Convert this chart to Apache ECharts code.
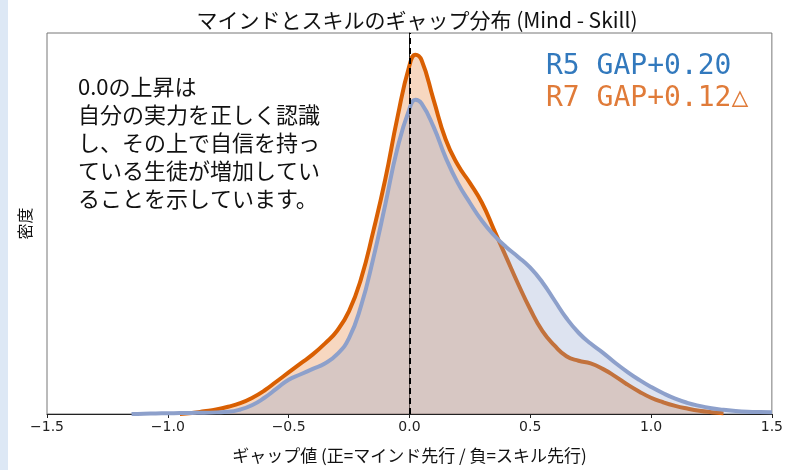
<!DOCTYPE html>
<html>
<head>
<meta charset="utf-8">
<script src="https://cdn.jsdelivr.net/npm/echarts@6/dist/echarts.min.js"></script>
<style>
html,body{margin:0;padding:0;background:#fff;}
#main{width:786px;height:470px;}
</style>
</head>
<body>
<div id="main"></div>
<script>
// x grid of the density curves (gap value)
var gapValues = [-1.20,-1.15,-1.10,-1.05,-1.00,-0.95,-0.90,-0.85,-0.80,-0.75,-0.70,-0.65,-0.60,-0.55,-0.50,-0.45,-0.40,-0.35,-0.30,-0.25,-0.20,-0.15,-0.10,-0.05,
    0.00,0.025,0.05,0.10,0.15,0.20,0.25,0.30,0.35,0.40,0.45,0.50,0.55,0.60,0.65,0.70,0.75,0.80,0.85,0.90,0.95,1.00,1.05,1.10,1.15,1.20,1.25,1.30,1.35,1.40,1.45,1.50];
// R7 density (orange)
var r7Density = [null,null,null,null,null,0,0.006,0.015,0.025,0.04,0.06,0.09,0.13,0.18,0.23,0.28,0.33,0.39,0.46,0.57,0.75,1.01,1.30,1.64,
    1.93,1.99,1.96,1.74,1.52,1.38,1.28,1.17,1.02,0.87,0.72,0.58,0.46,0.38,0.32,0.295,0.28,0.25,0.21,0.165,0.125,0.09,0.065,0.045,0.03,0.018,0.01,0.004,null,null,null,null];
// R5 density (blue)
var r5Density = [null,0,0.002,0.003,0.004,0.005,0.006,0.007,0.009,0.012,0.025,0.05,0.09,0.14,0.19,0.22,0.25,0.28,0.33,0.42,0.60,0.86,1.16,1.47,
    1.69,1.74,1.72,1.59,1.42,1.28,1.17,1.07,0.99,0.925,0.87,0.81,0.73,0.63,0.53,0.45,0.39,0.34,0.285,0.235,0.19,0.15,0.115,0.085,0.062,0.045,0.032,0.023,0.017,0.013,0.011,0.01];

var noteLines = ['0.0の上昇は','自分の実力を正しく認識','し、その上で自信を持っ','ている生徒が増加してい','ることを示しています。'];
var legendR5 = 'R5 GAP+0.20';
var legendR7 = 'R7 GAP+0.12△';

function pairs(xs, ys){
    var out = [];
    for(var i = 0;i<xs.length;i++){
        out.push([xs[i], ys[i]]);
    }
    return out;
}

var chart = echarts.init(document.getElementById('main'));
var option = {
    animation:false,
    backgroundColor:'#fff',
    title:{
        text:'マインドとスキルのギャップ分布 (Mind - Skill)',
        left:412, top:5, textAlign:'center',
        textStyle:{fontFamily:'Noto Sans CJK JP', fontSize:21, fontWeight:'normal', color:'#111'}
    },
    grid:{left:47, top:33, width:731, height:381, show:true, borderColor:'#777', borderWidth:1, backgroundColor:'transparent'},
    xAxis:{
        type:'value', min:-1.5, max:1.5, interval:0.5,
        name:'ギャップ値 (正=マインド先行 / 負=スキル先行)',
        nameLocation:'middle', nameGap:33,
        nameTextStyle:{fontFamily:'Noto Sans CJK JP', fontSize:17, color:'#111'},
        axisLine:{lineStyle:{color:'#222', width:1}},
        axisTick:{length:4, lineStyle:{color:'#222'}},
        splitLine:{show:false},
        axisLabel:{
            fontFamily:'DejaVu Sans', fontSize:14, color:'#222', margin:6,
            formatter:function(v){ return v.toFixed(1).replace('-', '\u2212'); }
        }
    },
    yAxis:{
        type:'value', min:0, max:2.11,
        name:'密度', nameLocation:'middle', nameGap:14, nameRotate:90,
        nameTextStyle:{fontFamily:'Noto Sans CJK JP', fontSize:16, color:'#111'},
        axisLine:{show:true, lineStyle:{color:'#222', width:1}},
        axisTick:{show:false}, axisLabel:{show:false}, splitLine:{show:false}
    },
    series:[
        {
            name:'R7', type:'line', data:pairs(gapValues, r7Density), z:2,
            smooth:0.5, showSymbol:false, connectNulls:false,
            lineStyle:{color:'#d95f02', width:4},
            areaStyle:{color:'rgba(224,105,20,0.38)'}
        },
        {
            name:'R5', type:'line', data:pairs(gapValues, r5Density), z:3,
            smooth:0.5, showSymbol:false, connectNulls:false,
            lineStyle:{color:'#8da0cb', width:4},
            areaStyle:{color:'rgba(141,160,203,0.42)'},
            markLine:{
                silent:true, symbol:'none', label:{show:false}, z:5,
                lineStyle:{color:'#000', type:[6,4], width:2},
                data:[{xAxis:0}]
            }
        }
    ],
    graphic:[
        {type:'rect', left:0, top:0, shape:{width:8, height:470}, style:{fill:'#dde8f5'}},
        {type:'text', left:78, top:73, style:{
            text:noteLines.join('\n'), font:'22px "Noto Sans CJK JP"', lineHeight:28, fill:'#111'}},
        {type:'text', left:546, top:53, style:{
            text:legendR5, font:'28px "DejaVu Sans Mono"', fill:'#3279bd'}},
        {type:'text', left:546, top:85, style:{
            text:legendR7, font:'28px "DejaVu Sans Mono"', fill:'#e07b39'}}
    ]
};
chart.setOption(option);
</script>
</body>
</html>
